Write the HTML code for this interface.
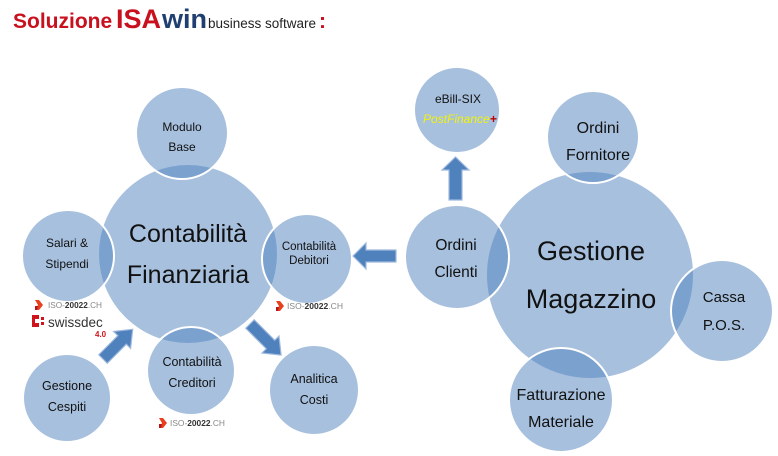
<!DOCTYPE html>
<html>
<head>
<meta charset="utf-8">
<style>
  html,body{margin:0;padding:0;background:#fff;}
  body{width:778px;height:456px;overflow:hidden;}
  svg{display:block;}
  text{font-family:"Liberation Sans", Arial, sans-serif;}
</style>
</head>
<body>
<svg width="778" height="456" viewBox="0 0 778 456" xmlns="http://www.w3.org/2000/svg">
  <!-- Title -->
  <text y="28" font-weight="bold">
    <tspan x="13" font-size="21" fill="#c8101e">Soluzione</tspan>
    <tspan x="116" font-size="27" fill="#c8101e">ISA</tspan>
    <tspan x="162" font-size="27" fill="#1f3f70">win</tspan>
    <tspan x="208" font-size="13.5" font-weight="normal" fill="#222">business software</tspan>
    <tspan x="319" font-size="21" fill="#c8101e">:</tspan>
  </text>

  <!-- Big circles (drawn first) -->
  <g fill="rgba(79,129,189,0.5)">
    <circle cx="188" cy="254" r="89"/>
    <circle cx="590" cy="275" r="103"/>
  </g>
  <!-- Small circles on top with white outline -->
  <g fill="rgba(79,129,189,0.5)" stroke="#fff" stroke-width="2">
    <circle cx="182" cy="133" r="46"/>
    <circle cx="68" cy="256" r="46"/>
    <circle cx="307" cy="259" r="45"/>
    <circle cx="191" cy="371" r="44"/>
    <circle cx="67" cy="398" r="44"/>
    <circle cx="314" cy="390" r="45"/>
    <circle cx="457" cy="110" r="43"/>
    <circle cx="593" cy="137" r="46"/>
    <circle cx="457" cy="257" r="52"/>
    <circle cx="722" cy="311" r="51"/>
    <circle cx="561" cy="400" r="52"/>
  </g>

  <!-- Arrows -->
  <g fill="#4f81bd" stroke="#9fb9de" stroke-width="1.2" stroke-linejoin="miter">
    <polygon points="449,200 449,170 442,170 455.5,157 469,170 462,170 462,200"/>
    <polygon points="396,250 366,250 366,243 353,256 366,269 366,262 396,262"/>
    <polygon transform="translate(103,359) rotate(-45)" points="0,-6 27,-6 27,-12 42,0 27,12 27,6 0,6"/>
    <polygon transform="translate(250,324) rotate(45)" points="0,-6 29,-6 29,-12 44,0 29,12 29,6 0,6"/>
  </g>

  <!-- Circle labels -->
  <g fill="#111" text-anchor="middle">
    <text x="188" y="242" font-size="25">Contabilità</text>
    <text x="188" y="283" font-size="25">Finanziaria</text>

    <text x="591" y="260" font-size="27">Gestione</text>
    <text x="591" y="308" font-size="27">Magazzino</text>

    <text x="182" y="131" font-size="12">Modulo</text>
    <text x="182" y="151" font-size="12">Base</text>

    <text x="67" y="247" font-size="12">Salari &amp;</text>
    <text x="67" y="268" font-size="12">Stipendi</text>

    <text x="309" y="250" font-size="11.5">Contabilità</text>
    <text x="309" y="264" font-size="11.5">Debitori</text>

    <text x="192" y="366" font-size="12.5">Contabilità</text>
    <text x="192" y="387" font-size="12.5">Creditori</text>

    <text x="67" y="390" font-size="12.5">Gestione</text>
    <text x="67" y="411" font-size="12.5">Cespiti</text>

    <text x="314" y="383" font-size="12.5">Analitica</text>
    <text x="314" y="404" font-size="12.5">Costi</text>

    <text x="458" y="103" font-size="12">eBill-SIX</text>

    <text x="598" y="133" font-size="16">Ordini</text>
    <text x="598" y="160" font-size="16">Fornitore</text>

    <text x="456" y="250" font-size="15.5">Ordini</text>
    <text x="456" y="277" font-size="15.5">Clienti</text>

    <text x="724" y="302" font-size="15">Cassa</text>
    <text x="724" y="330" font-size="15">P.O.S.</text>

    <text x="561" y="400" font-size="16">Fatturazione</text>
    <text x="561" y="427" font-size="16">Materiale</text>
  </g>

  <!-- PostFinance -->
  <text x="423" y="123" font-size="12" font-style="italic"><tspan fill="#f2f20a">PostFinance</tspan><tspan fill="#c00000" font-weight="bold">+</tspan></text>

  <!-- ISO-20022 logos -->
  <g>
    <polygon points="35,300 39,300 43,305 39,310 35,310 38,305" fill="#e8401c"/>
    <polygon points="35,306 38,306 37,310 35,310" fill="#b8141c"/>
    <text x="48" y="308" font-size="8.5" textLength="54" lengthAdjust="spacingAndGlyphs"><tspan fill="#888">ISO-</tspan><tspan fill="#333" font-weight="bold">20022</tspan><tspan fill="#888">.CH</tspan></text>
  </g>
  <g>
    <polygon points="276,301 280,301 284,306 280,311 276,311 279,306" fill="#e8401c"/>
    <polygon points="276,307 279,307 278,311 276,311" fill="#b8141c"/>
    <text x="287" y="309" font-size="8.5" textLength="56" lengthAdjust="spacingAndGlyphs"><tspan fill="#888">ISO-</tspan><tspan fill="#333" font-weight="bold">20022</tspan><tspan fill="#888">.CH</tspan></text>
  </g>
  <g>
    <polygon points="159,418 163,418 167,423 163,428 159,428 162,423" fill="#e8401c"/>
    <polygon points="159,424 162,424 161,428 159,428" fill="#b8141c"/>
    <text x="170" y="426" font-size="8.5" textLength="55" lengthAdjust="spacingAndGlyphs"><tspan fill="#888">ISO-</tspan><tspan fill="#333" font-weight="bold">20022</tspan><tspan fill="#888">.CH</tspan></text>
  </g>

  <!-- swissdec logo -->
  <g fill="#d0141c">
    <rect x="32" y="315" width="7" height="12"/>
    <rect x="35" y="319" width="4" height="4" fill="#fff"/>
    <rect x="41" y="317" width="3" height="3"/>
    <rect x="41" y="322" width="3" height="3"/>
  </g>
  <text x="48" y="327" font-size="13.5" fill="#333">swissdec</text>
  <text x="95" y="337" font-size="8" font-weight="bold" fill="#d0141c">4.0</text>
</svg>
</body>
</html>
